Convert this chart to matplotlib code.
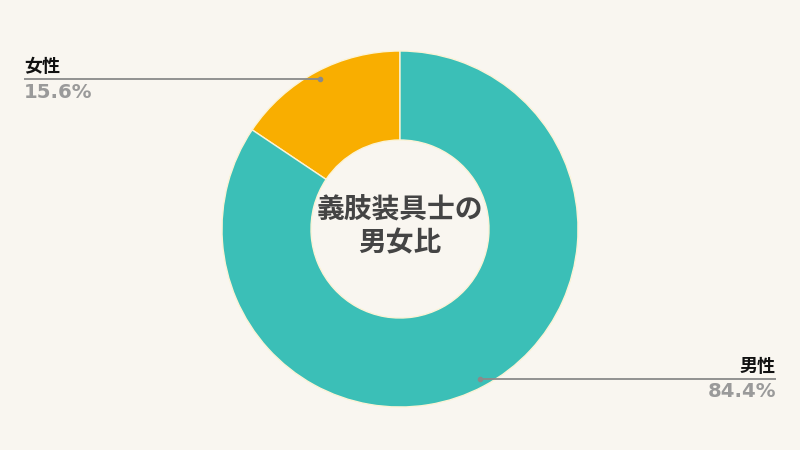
import matplotlib
matplotlib.use("Agg")
import matplotlib.pyplot as plt
import numpy as np

categories = ["女性", "男性"]
values = [15.6, 84.4]
colors = ["#F9AE00", "#3BBFB7"]
title_lines = "義肢装具士の\n男女比"

W, H = 800, 450
fig = plt.figure(figsize=(8, 4.5), dpi=100, facecolor="#F9F6F0")
ax = fig.add_axes([0, 0, 1, 1])
ax.set_facecolor("#F9F6F0")

cx, cy, R = 400, H - 229, 178
wedges, _ = ax.pie(values, colors=colors, startangle=90, counterclock=True,
                   center=(cx, cy), radius=R,
                   wedgeprops=dict(width=R * 0.5, edgecolor="#FBF3D6", linewidth=1))
ax.set_xlim(0, W)
ax.set_ylim(0, H)
ax.set_aspect("equal")
ax.axis("off")

ax.text(cx, cy + 2, title_lines, ha="center", va="center", fontsize=20,
        fontweight="bold", color="#444444", family=["Noto Sans CJK JP", "DejaVu Sans"],
        linespacing=1.2)

for w, cat, v in zip(wedges, categories, values):
    ang = np.deg2rad((w.theta1 + w.theta2) / 2)
    r = R * 0.952
    px, py = cx + r * np.cos(ang), cy + r * np.sin(ang)
    if np.cos(ang) < 0:
        x_end, ha = 24, "left"
    else:
        x_end, ha = 776, "right"
    ax.plot([px, x_end], [py, py], color="#8A8A8A", lw=1.3, solid_capstyle="butt")
    ax.plot([px], [py], marker="o", ms=3, color="#8A8A8A")
    ax.text(x_end, py + 3, cat, ha=ha, va="bottom", fontsize=13, fontweight="bold",
            color="#111111", family=["Noto Sans CJK JP", "DejaVu Sans"])
    ax.text(x_end, py - 3.5, f"{v:.1f}%", ha=ha, va="top", fontsize=14.2,
            fontweight="bold", color="#9A9A9A", family="DejaVu Sans")

fig.savefig("out.png", dpi=100, facecolor=fig.get_facecolor())
